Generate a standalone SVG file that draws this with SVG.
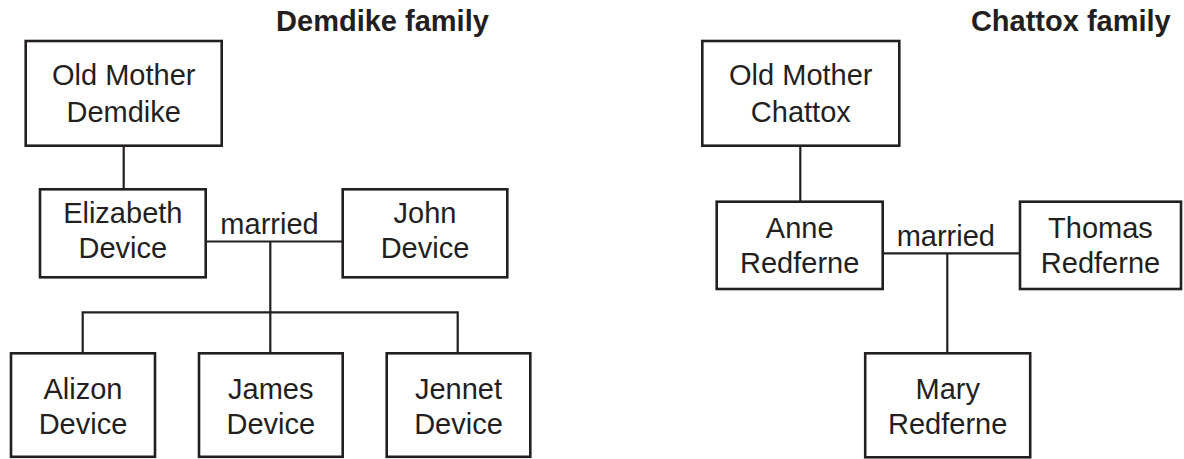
<svg xmlns="http://www.w3.org/2000/svg" width="1184" height="459" viewBox="0 0 1184 459">
<style>
  .box { fill: #ffffff; stroke: #231f20; stroke-width: 2.6; }
  .line { fill: none; stroke: #231f20; stroke-width: 2.2; }
  .t { font-family: "Liberation Sans", Arial, Helvetica, sans-serif; font-size: 29px; fill: #231f20; text-anchor: middle; }
  .title { font-family: "Liberation Sans", Arial, Helvetica, sans-serif; font-size: 29px; font-weight: bold; fill: #231f20; text-anchor: middle; }
</style>
<rect width="1184" height="459" fill="#ffffff"/>
<g id="titles">
  <text class="title" x="382.5" y="31">Demdike family</text>
  <text class="title" x="1070.8" y="31">Chattox family</text>
</g>
<g id="connectors">
  <path class="line" d="M123.7,146 V189.3"/>
  <path class="line" d="M205.7,241.5 H342.7"/>
  <path class="line" d="M270.3,241.5 V353.3"/>
  <path class="line" d="M82.7,353.3 V312.3 H457.7 V353.3"/>
  <path class="line" d="M800.3,145.7 V201.7"/>
  <path class="line" d="M882.7,253.3 H1020"/>
  <path class="line" d="M947.3,253.3 V353.3"/>
  <text class="t" x="269.5" y="234">married</text>
  <text class="t" x="945.8" y="245.7">married</text>
</g>
<g id="demdike">
  <rect class="box" x="25.7" y="41" width="196" height="104.7"/>
  <text class="t" x="123.7" y="85">Old Mother</text>
  <text class="t" x="123.7" y="121.7">Demdike</text>
</g>
<g id="elizabeth">
  <rect class="box" x="40" y="189.3" width="165.7" height="88"/>
  <text class="t" x="122.8" y="222.7">Elizabeth</text>
  <text class="t" x="122.8" y="258.3">Device</text>
</g>
<g id="john">
  <rect class="box" x="342.7" y="189.3" width="164.6" height="88"/>
  <text class="t" x="425" y="223">John</text>
  <text class="t" x="425" y="257.7">Device</text>
</g>
<g id="alizon">
  <rect class="box" x="11" y="353.3" width="144" height="103.5"/>
  <text class="t" x="83" y="399">Alizon</text>
  <text class="t" x="83" y="434">Device</text>
</g>
<g id="james">
  <rect class="box" x="199" y="353.3" width="143.7" height="103.5"/>
  <text class="t" x="270.8" y="399">James</text>
  <text class="t" x="270.8" y="434">Device</text>
</g>
<g id="jennet">
  <rect class="box" x="386.7" y="353.3" width="143.6" height="103.5"/>
  <text class="t" x="458.5" y="399">Jennet</text>
  <text class="t" x="458.5" y="434">Device</text>
</g>
<g id="chattox">
  <rect class="box" x="702.3" y="41" width="197" height="104.7"/>
  <text class="t" x="800.8" y="85">Old Mother</text>
  <text class="t" x="800.8" y="121.7">Chattox</text>
</g>
<g id="anne">
  <rect class="box" x="716.7" y="201.7" width="166" height="87.3"/>
  <text class="t" x="799.7" y="238.3">Anne</text>
  <text class="t" x="799.7" y="272.7">Redferne</text>
</g>
<g id="thomas">
  <rect class="box" x="1020" y="201.7" width="161" height="87.3"/>
  <text class="t" x="1100.5" y="238.3">Thomas</text>
  <text class="t" x="1100.5" y="272.7">Redferne</text>
</g>
<g id="mary">
  <rect class="box" x="865.2" y="353.3" width="165" height="104"/>
  <text class="t" x="947.7" y="399">Mary</text>
  <text class="t" x="947.7" y="434">Redferne</text>
</g>
</svg>
